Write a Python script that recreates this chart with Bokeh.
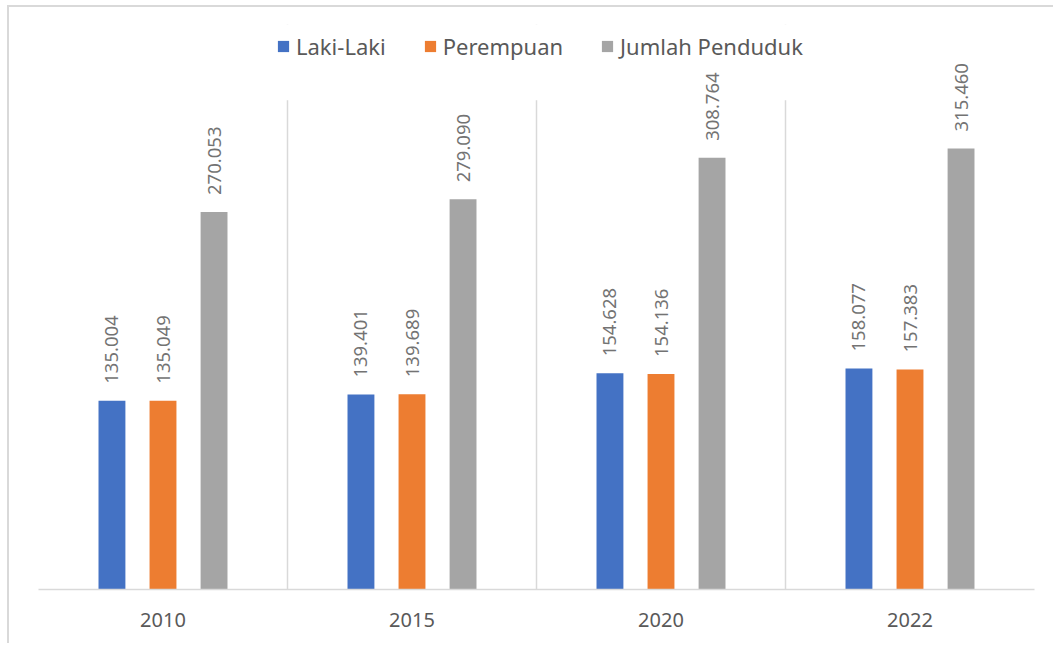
from bokeh.plotting import figure
from bokeh.models import (ColumnDataSource, FactorRange, Range1d, FixedTicker,
                          Legend, LegendItem, BoxAnnotation)
from bokeh.transform import dodge
from bokeh.core.properties import value
from bokeh.embed import file_html
from bokeh.resources import INLINE

years = ["2010", "2015", "2020", "2022"]
laki_laki = [135004, 139401, 154628, 158077]
perempuan = [135049, 139689, 154136, 157383]
jumlah_penduduk = [270053, 279090, 308764, 315460]
series_names = ["Laki-Laki", "Perempuan", "Jumlah Penduduk"]
colors = ["#4472C4", "#ED7D31", "#A5A5A5"]
axis_max = 350000


def fmt(v):
    return f"{v:,}".replace(",", ".")


source = ColumnDataSource(dict(
    years=years,
    laki=laki_laki,
    perempuan=perempuan,
    jumlah=jumlah_penduduk,
    laki_lbl=[fmt(v) for v in laki_laki],
    perempuan_lbl=[fmt(v) for v in perempuan],
    jumlah_lbl=[fmt(v) for v in jumlah_penduduk],
))

FONT = "Noto Sans"

p = figure(
    x_range=FactorRange(*years, range_padding=0, factor_padding=0),
    y_range=Range1d(0, 404160),
    width=1046, height=638,
    output_backend="svg", toolbar_location=None,
    min_border_left=29, min_border_right=21,
    min_border_top=17, min_border_bottom=56,
)
p.styles = {"border-left": "2px solid #d9d9d9", "border-top": "2px solid #d9d9d9",
            "margin-left": "7px", "margin-top": "5px"}
p.outline_line_color = None
p.background_fill_color = "white"
p.border_fill_color = "white"

# axes
p.yaxis.visible = False
p.ygrid.visible = False
ax = p.xaxis[0]
ax.axis_line_color = "#d9d9d9"
ax.axis_line_width = 1.5
ax.major_tick_line_color = None
ax.minor_tick_line_color = None
ax.major_tick_out = 0
ax.major_label_standoff = 23
ax.major_label_text_font = FONT
ax.major_label_text_font_size = "20px"
ax.major_label_text_color = "#595959"

p.xgrid.ticker = FixedTicker(ticks=[0, 1, 2, 3, 4])
p.xgrid.grid_line_color = "#d9d9d9"
p.xgrid.grid_line_width = 1.5

# hide gridlines above the value-axis maximum
p.add_layout(BoxAnnotation(bottom=axis_max, fill_color="white", fill_alpha=1,
                           line_color=None, level="underlay"))

offsets = [-0.205, 0.0, 0.205]
cols = ["laki", "perempuan", "jumlah"]
renderers = []
for off, col, c in zip(offsets, cols, colors):
    r = p.vbar(x=dodge("years", off, range=p.x_range), top=col, width=0.108,
               source=source, fill_color=c, line_color=None)
    renderers.append(r)
    p.text(x=dodge("years", off, range=p.x_range), y=col, text=col + "_lbl",
           source=source, angle=1.5707963, text_align="left",
           text_baseline="middle", y_offset=-17,
           text_font=value(FONT), text_font_size="18.5px",
           text_color="#737373")

legend = Legend(
    items=[LegendItem(label=n, renderers=[r]) for n, r in zip(series_names, renderers)],
    orientation="horizontal", location=(238, 528),
    border_line_color=None, background_fill_alpha=0,
    glyph_width=14, glyph_height=14, label_standoff=6, spacing=37,
    padding=0, margin=0,
    label_text_font=FONT, label_text_font_size="22px",
    label_text_color="#595959",
)
p.add_layout(legend, "center")

open("out.html", "w").write(file_html(p, INLINE))
